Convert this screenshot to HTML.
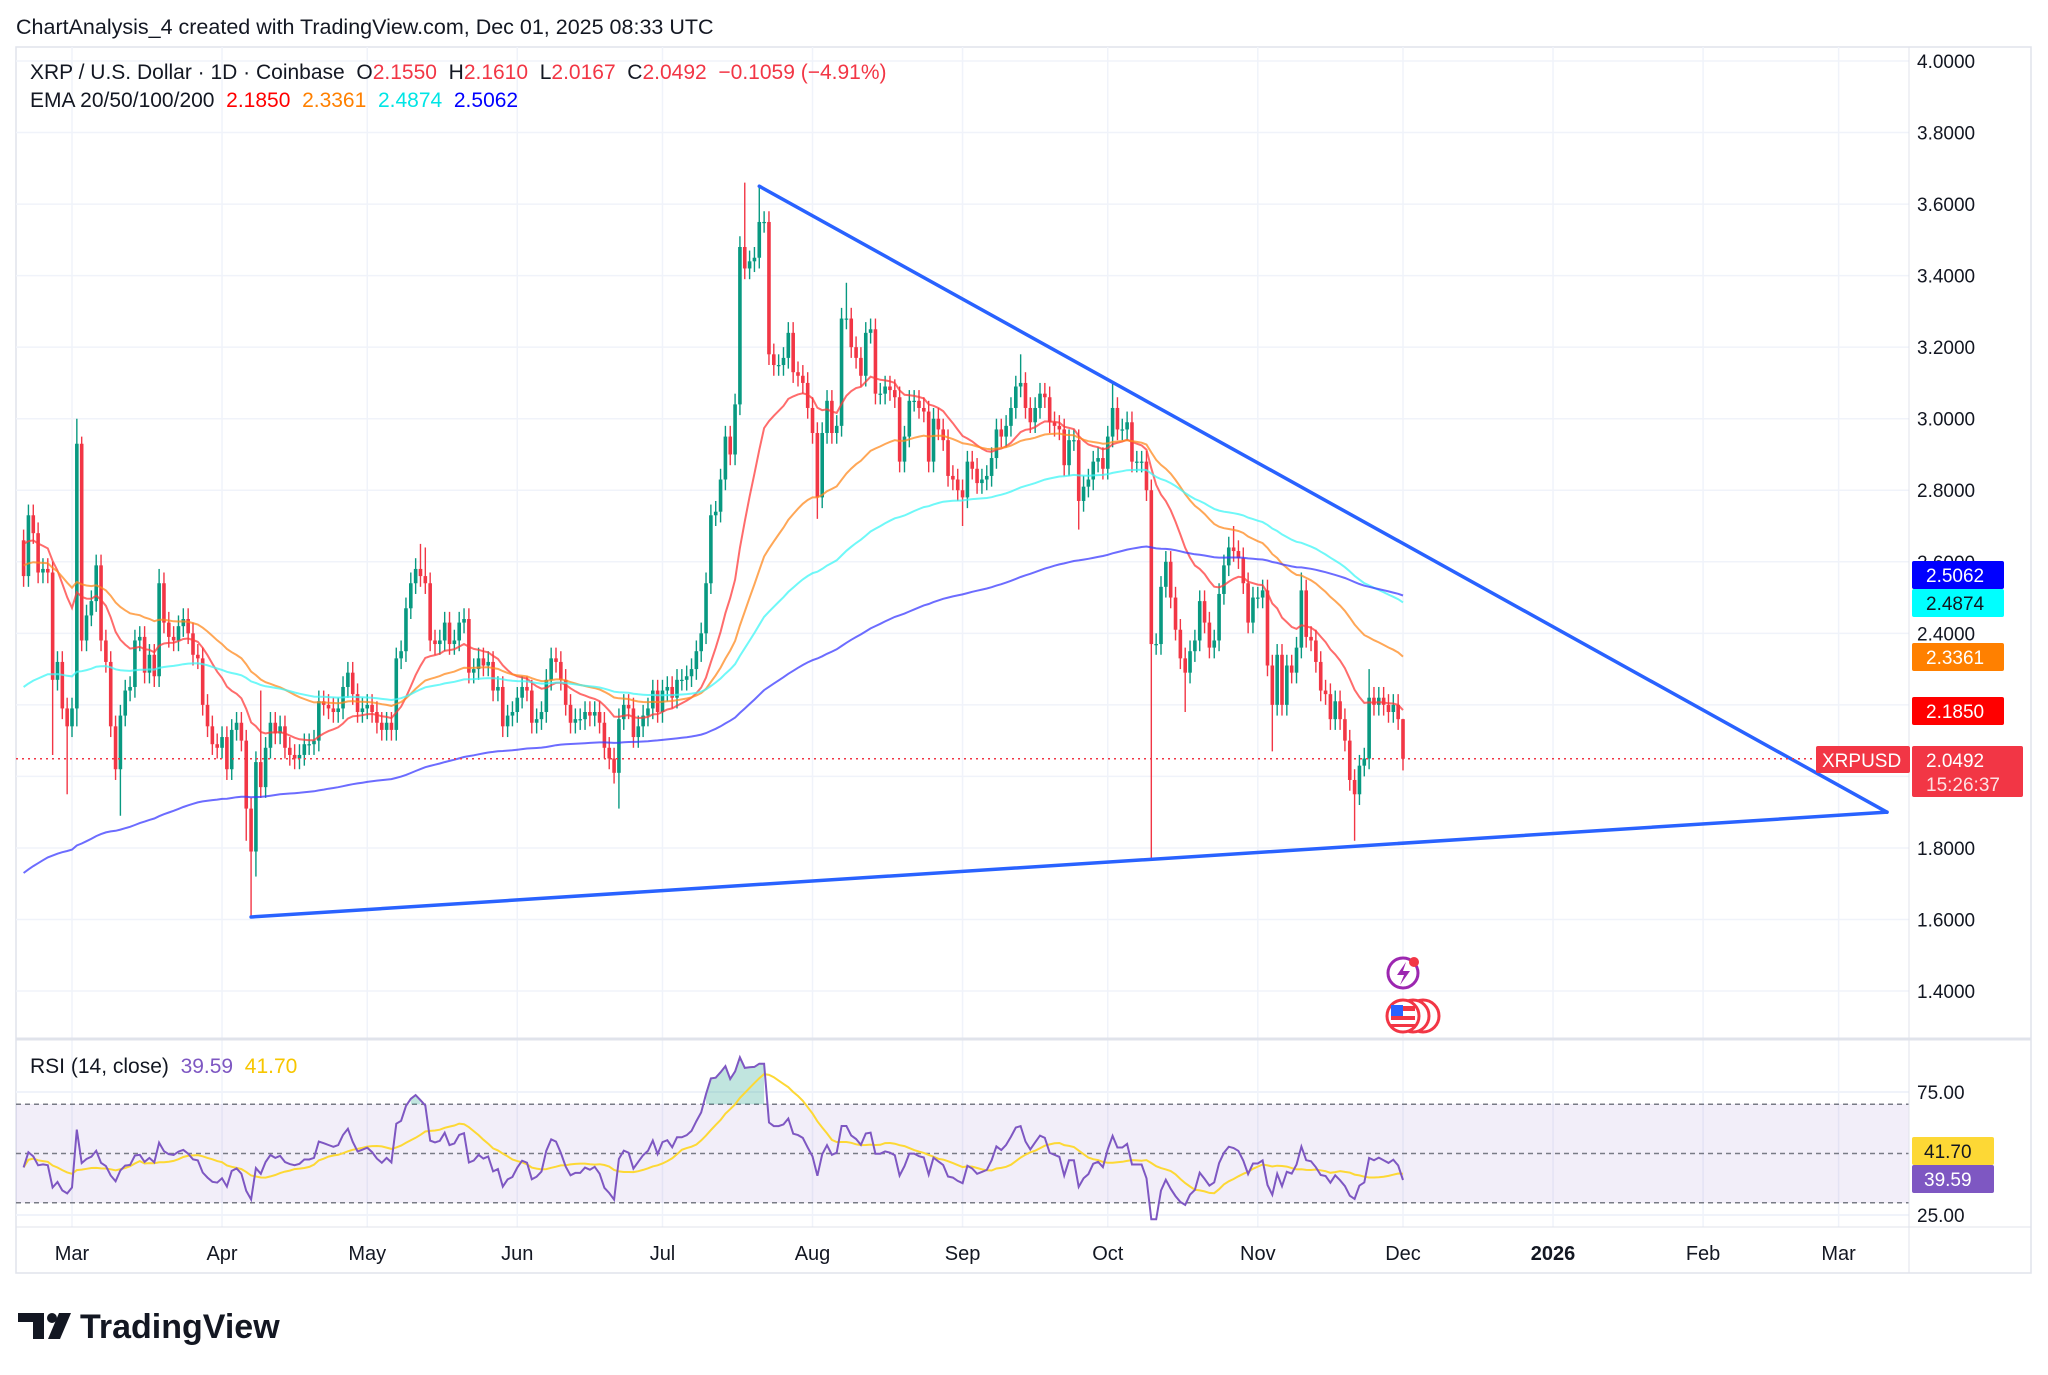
<!DOCTYPE html>
<html><head><meta charset="utf-8"><style>
html,body{margin:0;padding:0;background:#fff;}
svg{display:block;font-family:"Liberation Sans",sans-serif;}
</style></head><body>
<svg id="chart" width="2048" height="1375" viewBox="0 0 2048 1375" xmlns="http://www.w3.org/2000/svg">
<text x="16" y="34" font-size="21.5" fill="#131722">ChartAnalysis_4 created with TradingView.com, Dec 01, 2025 08:33 UTC</text>
<rect x="16" y="47" width="2015" height="1226" fill="#fff" stroke="#e0e3eb" stroke-width="1.5"/>
<g id="grid"></g>
<rect x="16" y="1104" width="1893" height="99" fill="#7e57c2" fill-opacity="0.1"/>
<g id="plot"></g>
<line x1="16" y1="1039" x2="2031" y2="1039" stroke="#e0e3eb" stroke-width="3"/>
<line x1="1909" y1="47" x2="1909" y2="1273" stroke="#e0e3eb" stroke-width="1"/>
<line x1="16" y1="1227" x2="2031" y2="1227" stroke="#e0e3eb" stroke-width="1"/>
<g id="axes"></g>
<g font-size="21">
<text x="30" y="79" fill="#131722" xml:space="preserve">XRP / U.S. Dollar · 1D · Coinbase  O<tspan fill="#f23645">2.1550</tspan>  H<tspan fill="#f23645">2.1610</tspan>  L<tspan fill="#f23645">2.0167</tspan>  C<tspan fill="#f23645">2.0492  −0.1059 (−4.91%)</tspan></text>
<text x="30" y="107" fill="#131722" xml:space="preserve">EMA 20/50/100/200  <tspan fill="#ff0000">2.1850</tspan>  <tspan fill="#ff8000">2.3361</tspan>  <tspan fill="#00e5e5">2.4874</tspan>  <tspan fill="#0000ff">2.5062</tspan></text>
<text x="30" y="1073" fill="#131722" xml:space="preserve">RSI (14, close)  <tspan fill="#7e57c2">39.59</tspan>  <tspan fill="#f7c600">41.70</tspan></text>
</g>
<g>
<circle cx="1403" cy="973" r="15" fill="#fff" stroke="#9c27b0" stroke-width="3"/>
<path d="M1406 962 L1397 975 L1404 975 L1400 985 L1410 971 L1403 971 Z" fill="#9c27b0"/>
<circle cx="1414" cy="962" r="5" fill="#f23645"/>
<circle cx="1423" cy="1016" r="16" fill="#fff" stroke="#f23645" stroke-width="3"/>
<circle cx="1413" cy="1016" r="16" fill="#fff" stroke="#f23645" stroke-width="3"/>
<circle cx="1403" cy="1016" r="16" fill="#fff" stroke="#f23645" stroke-width="3"/>
<rect x="1391" y="1006" width="24" height="5" fill="#f23645"/><rect x="1391" y="1016" width="24" height="4" fill="#f23645"/><rect x="1391" y="1024" width="24" height="3" fill="#f23645"/>
<rect x="1391" y="1005" width="12" height="11" fill="#2962ff"/>
</g>
<g>
<path d="M18 1313 H44 V1339 H33 V1322 H18 Z" fill="#131722"/>
<circle cx="52" cy="1318" r="5" fill="#131722"/>
<path d="M59 1313 H71 L60 1339 H48 Z" fill="#131722"/>
<text x="80" y="1338" font-size="34" font-weight="bold" fill="#131722">TradingView</text>
</g>
</svg>
<script>
// ---- data (Feb 19 2025 .. Dec 1 2025, daily) ----
const closes = [
2.56,2.73,2.68,2.57,2.58,2.57,2.27,2.32,2.19,2.14,
2.19,2.93,2.38,2.45,2.49,2.59,2.38,2.32,2.14,2.02,2.17,2.24,2.25,2.38,2.39,2.29,2.34,2.28,2.54,2.43,2.39,2.38,2.42,2.44,2.40,2.34,2.33,2.20,2.14,2.09,2.08,
2.11,2.02,2.13,2.15,2.10,1.91,1.79,2.04,1.97,2.08,2.15,2.12,2.14,2.08,2.06,2.05,2.06,2.09,2.09,2.10,2.21,2.20,2.19,2.18,2.19,2.25,2.29,2.23,2.18,2.19,
2.20,2.18,2.15,2.13,2.15,2.13,2.33,2.35,2.47,2.54,2.58,2.56,2.54,2.38,2.37,2.38,2.43,2.37,2.38,2.43,2.44,2.29,2.30,2.33,2.31,2.32,2.24,2.25,2.14,2.17,2.18,
2.22,2.25,2.24,2.15,2.16,2.18,2.27,2.33,2.32,2.27,2.20,2.15,2.16,2.16,2.18,2.17,2.18,2.15,2.08,2.05,2.01,2.16,2.20,2.19,2.11,2.14,2.17,2.19,2.24,2.18,
2.24,2.25,2.22,2.27,2.27,2.28,2.30,2.35,2.40,2.54,2.73,2.74,2.83,2.95,2.90,3.04,3.48,3.42,3.44,3.45,3.55,3.55,3.18,3.15,3.15,3.17,3.24,3.13,3.12,3.10,3.03,
2.96,2.78,2.96,3.05,2.96,2.98,3.28,3.28,3.20,3.17,3.12,3.24,3.25,3.07,3.07,3.09,3.08,3.06,2.88,2.95,3.05,3.05,3.03,3.02,2.88,3.00,2.97,2.94,2.84,2.83,2.80,
2.78,2.88,2.86,2.82,2.83,2.84,2.89,2.97,2.95,2.98,3.03,3.09,3.10,3.03,2.99,3.03,3.07,3.06,2.99,2.98,2.97,2.87,2.94,2.94,2.77,2.81,2.83,2.88,2.89,2.86,
2.95,3.03,2.97,2.97,2.99,2.88,2.88,2.88,2.80,2.37,2.37,2.53,2.60,2.50,2.41,2.33,2.29,2.35,2.38,2.49,2.43,2.36,2.38,2.51,2.59,2.64,2.63,2.61,2.54,2.43,2.50,
2.50,2.52,2.31,2.20,2.34,2.20,2.31,2.29,2.36,2.52,2.39,2.38,2.32,2.24,2.23,2.16,2.21,2.16,2.10,1.99,1.95,2.03,2.05,2.22,2.20,2.22,2.20,2.18,2.20,2.16,
2.0492];
const firstOpen = 2.66;
const wickIdx = [1,6,9,11,12,20,28,46,47,48,49,82,83,123,149,152,164,170,194,206,218,225,233,240,250,258,264,275,278,285];
const wickHi  = [2.76,null,null,3.00,2.95,null,2.58,null,null,null,2.24,2.65,2.64,null,3.66,3.65,null,3.38,null,3.18,null,3.10,2.83,null,2.70,null,2.57,null,2.30,2.161];
const wickLo  = [null,2.06,1.95,2.14,null,1.89,null,1.82,1.61,1.72,null,null,null,1.91,null,null,2.72,null,2.70,null,2.69,null,1.77,2.18,null,2.07,null,1.82,null,2.0167];
const emaSeed = [2.65,2.59,2.25,1.73];
const emaPeriods = [20,50,100,200];
const emaColors = ['#ff3b3b','#ff8a1f','#3ff5f5','#3b3bff'];
const priceTicks = [1.4,1.6,1.8,2.0,2.2,2.4,2.6,2.8,3.0,3.2,3.4,3.6,3.8,4.0];
const monthIdx = [10,41,71,102,132,163,194,224,255,285,316,347,375];
const monthLabels = ['Mar','Apr','May','Jun','Jul','Aug','Sep','Oct','Nov','Dec','2026','Feb','Mar'];
const upperLine = [[152,3.65],[385,1.90]];
const lowerLine = [[47,1.607],[385,1.90]];
const rsiTicks = [75,25];
const rsiLevels = [70,50,30];
const rsiSeed = [0.05,0.055]; // avg gain / avg loss before first bar

const NS='http://www.w3.org/2000/svg';
const X = i => 72 + (i-10)*4.84;
const Y = p => 61 + (4-p)*357.7;
const YR = v => 1092 + (75-v)*2.46;
function mk(tag, attrs, parent){const e=document.createElementNS(NS,tag);for(const k in attrs)e.setAttribute(k,attrs[k]);parent.appendChild(e);return e;}
const grid=document.getElementById('grid'), plot=document.getElementById('plot'), axes=document.getElementById('axes');

priceTicks.forEach(p=>{const l=mk('line',{x1:16,x2:1909,y1:Y(p),y2:Y(p),stroke:'#f0f3fa','stroke-width':1.5},grid);

});
rsiTicks.forEach(v=>{const l=mk('line',{x1:16,x2:1909,y1:YR(v),y2:YR(v),stroke:'#f0f3fa','stroke-width':2},grid);

});
monthIdx.forEach(i=>{const l=mk('line',{x1:X(i),x2:X(i),y1:47,y2:1227,stroke:'#f0f3fa','stroke-width':1.5},grid);

});

const defs=mk('defs',{},plot);
const cp=mk('clipPath',{id:'pc'},defs); mk('rect',{x:16,y:47,width:1893,height:991},cp);
const cr=mk('clipPath',{id:'rc'},defs); mk('rect',{x:16,y:1040,width:1893,height:186},cr);
const pg=mk('g',{'clip-path':'url(#pc)'},plot);
const rg=mk('g',{'clip-path':'url(#rc)'},plot);

const n=closes.length;
const hiMap={},loMap={};
wickIdx.forEach((i,k)=>{if(wickHi[k]!=null)hiMap[i]=wickHi[k];if(wickLo[k]!=null)loMap[i]=wickLo[k];});
for(let i=0;i<n;i++){
  const o=i===0?firstOpen:closes[i-1], c=closes[i];
  const up=c>=o, col=up?'#089981':'#f23645';
  const h=hiMap[i]!=null?hiMap[i]:Math.max(o,c)+0.03, l=loMap[i]!=null?loMap[i]:Math.min(o,c)-0.03;
  const g=mk('g',{},pg);
  
  
  mk('line',{x1:X(i),x2:X(i),y1:Y(h),y2:Y(l),stroke:col,'stroke-width':1.4},g);
  const yt=Y(Math.max(o,c)), yb=Y(Math.min(o,c));
  mk('rect',{x:X(i)-1.8,y:yt,width:3.6,height:Math.max(1.2,yb-yt),fill:col},g);
}
emaPeriods.forEach((per,k)=>{
  const a=2/(per+1); let e=emaSeed[k]; let d='';
  for(let i=0;i<n;i++){ if(i>0) e=a*closes[i]+(1-a)*e; d+=(i?'L':'M')+X(i).toFixed(1)+' '+Y(e).toFixed(1); }
  const p=mk('path',{d:d,fill:'none',stroke:emaColors[k],'stroke-width':2,'stroke-opacity':0.75},pg);
  
  
});
[upperLine,lowerLine].forEach((ln,k)=>{
  const l=mk('line',{x1:X(ln[0][0]),y1:Y(ln[0][1]),x2:X(ln[1][0]),y2:Y(ln[1][1]),stroke:'#2962ff','stroke-width':3.5,'stroke-linecap':'round'},pg);
  
  
});
const lp=mk('line',{x1:16,x2:1816,y1:Y(closes[n-1]),y2:Y(closes[n-1]),stroke:'#f23645','stroke-width':1.5,'stroke-dasharray':'2 4'},plot);



// RSI (Wilder)
let ag=rsiSeed[0],al=rsiSeed[1]; const rsi=[];
for(let i=0;i<n;i++){
  const prev=i===0?firstOpen:closes[i-1]; const ch=closes[i]-prev;
  ag=(ag*13+Math.max(ch,0))/14; al=(al*13+Math.max(-ch,0))/14;
  rsi.push(100-100/(1+ag/(al||1e-9)));
}
const rsiMa=rsi.map((v,i)=>{const s=rsi.slice(Math.max(0,i-13),i+1);return s.reduce((a,b)=>a+b,0)/s.length;});
rsiLevels.forEach(v=>{const l=mk('line',{x1:16,x2:1909,y1:YR(v),y2:YR(v),stroke:'#787b86','stroke-width':1.5,'stroke-dasharray':'5 4'},rg);

});
let fd='';let inside=false;
for(let i=0;i<n;i++){ if(rsi[i]>70){ if(!inside){fd+='M'+X(i)+' '+YR(70);inside=true;} fd+='L'+X(i)+' '+YR(rsi[i]); if(i==n-1||rsi[i+1]<=70){fd+='L'+X(i)+' '+YR(70)+'Z';inside=false;} } }
const of=mk('path',{d:fd,fill:'#089981','fill-opacity':0.25},rg);


let dr='',dm='';
for(let i=0;i<n;i++){dr+=(i?'L':'M')+X(i).toFixed(1)+' '+YR(rsi[i]).toFixed(1);dm+=(i?'L':'M')+X(i).toFixed(1)+' '+YR(rsiMa[i]).toFixed(1);}
const rm=mk('path',{d:dm,fill:'none',stroke:'#fdd835','stroke-width':2},rg);


const rl=mk('path',{d:dr,fill:'none',stroke:'#7e57c2','stroke-width':2},rg);



priceTicks.forEach(p=>{const t=mk('text',{x:1917,y:Y(p)+7,'font-size':19,fill:'#131722'},axes);t.textContent=p.toFixed(4);

});
rsiTicks.forEach(v=>{const t=mk('text',{x:1917,y:YR(v)+7,'font-size':19,fill:'#131722'},axes);t.textContent=v.toFixed(2);

});
monthIdx.forEach((i,k)=>{const t=mk('text',{x:X(i),y:1260,'font-size':20,fill:'#131722','text-anchor':'middle','font-weight':monthLabels[k]==='2026'?'bold':'normal'},axes);t.textContent=monthLabels[k];

});

const emaVals=[2.1850,2.3361,2.4874,2.5062];
const badgeCols=['#ff0000','#ff8000','#00ffff','#0000ff'];
const badgeText=['#fff','#fff','#131722','#fff'];
const badgeY=[711,657,603,575];
emaVals.forEach((v,k)=>{
  const g=mk('g',{},axes);
  
  
  mk('rect',{x:1912,y:badgeY[k]-14,width:92,height:28,rx:2,fill:badgeCols[k]},g);
  const t=mk('text',{x:1926,y:badgeY[k]+7,'font-size':19,fill:badgeText[k]},g);t.textContent=v.toFixed(4);
});
const pb=mk('g',{},axes);


mk('rect',{x:1912,y:746,width:111,height:51,rx:2,fill:'#f23645'},pb);
mk('rect',{x:1816,y:746,width:94,height:27,rx:2,fill:'#f23645'},pb);
let t=mk('text',{x:1822,y:767,'font-size':19,fill:'#fff'},pb);t.textContent='XRPUSD';
t=mk('text',{x:1926,y:767,'font-size':19,fill:'#fff'},pb);t.textContent=closes[n-1].toFixed(4);
t=mk('text',{x:1926,y:791,'font-size':19,fill:'#fff','fill-opacity':0.85},pb);t.textContent='15:26:37';
const rb=mk('g',{},axes);


mk('rect',{x:1912,y:1137,width:82,height:28,rx:2,fill:'#fdd835'},rb);
mk('rect',{x:1912,y:1165,width:82,height:28,rx:2,fill:'#7e57c2'},rb);
t=mk('text',{x:1924,y:1158,'font-size':19,fill:'#131722'},rb);t.textContent='41.70';
t=mk('text',{x:1924,y:1186,'font-size':19,fill:'#fff'},rb);t.textContent='39.59';
</script>
</body></html>
